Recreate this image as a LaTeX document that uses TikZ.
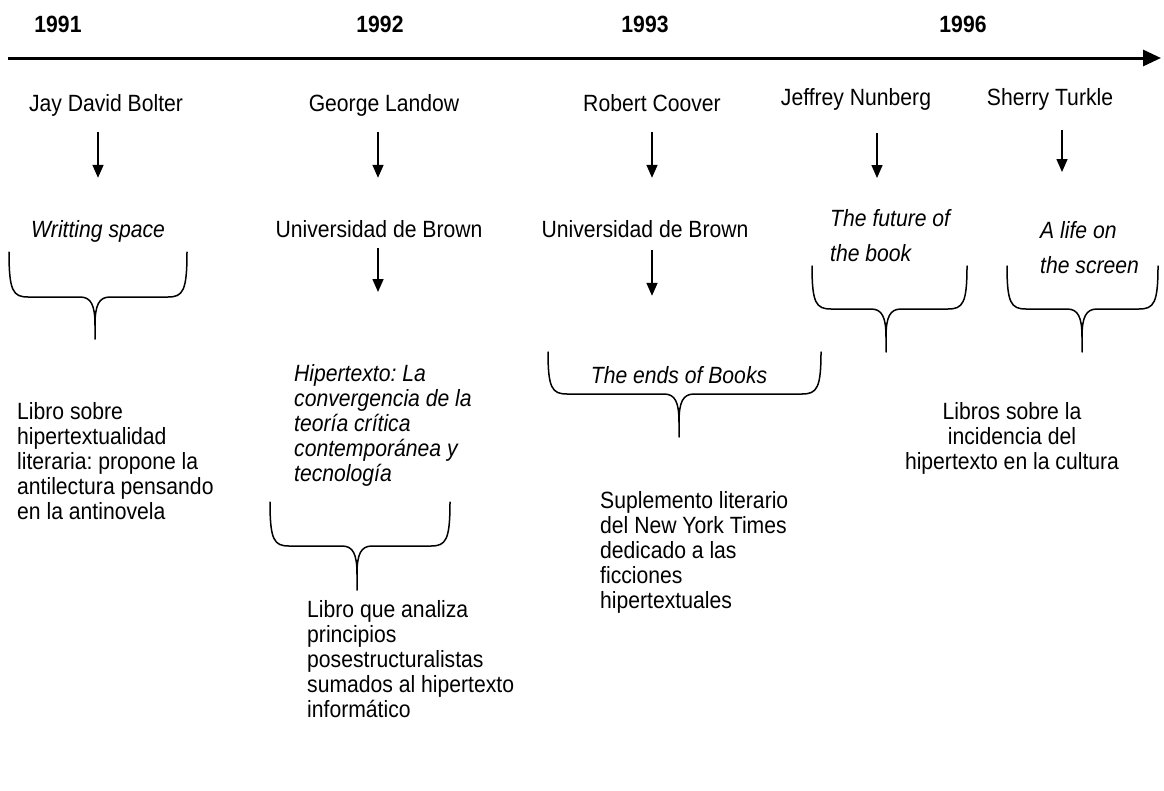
\documentclass[tikz,border=0pt]{standalone}
\usepackage{fontspec}
\setmainfont{Liberation Sans}[FakeStretch=0.9]
\usetikzlibrary{arrows.meta}

\newcommand\txtsize{\fontsize{23.5}{25}\selectfont}
\newcommand\wide{\fontsize{23.5}{35.5}\selectfont}

% curly brace opening downwards: left x, right x, top y, bar y, tip x, tip y
\newcommand\downbrace[6]{%
  \draw[brc] (#1,#3) .. controls (#1,#4-6) and (#1+4,#4) .. (#1+19,#4)
    -- (#5-15,#4) .. controls (#5-4,#4) and (#5,#4+8) .. (#5,#4+28) -- (#5,#6);
  \draw[brc] (#5,#4+28) .. controls (#5,#4+8) and (#5+4,#4) .. (#5+15,#4)
    -- (#2-19,#4) .. controls (#2-4,#4) and (#2,#4-6) .. (#2,#3);
}

\begin{document}
\frenchspacing
\begin{tikzpicture}[x=1pt,y=-1pt,
  lbl/.style={inner sep=0pt, font=\txtsize},
  one/.style={lbl, anchor=base, text height=16pt, text depth=5pt},
  year/.style={one, font=\txtsize\bfseries},
  title/.style={one, font=\txtsize\itshape},
  para/.style={lbl, anchor=north west, align=left},
  varrow/.style={line width=1.6pt, -{Triangle[length=13pt,width=11pt]}},
  timeline/.style={line width=3pt, -{Triangle[length=18pt,width=16pt]}},
  brc/.style={line width=1.5pt, line cap=round, line join=round}]

\useasboundingbox (0,0) rectangle (1164,790);

% time axis
\coordinate (tstart) at (8,58);
\coordinate (tend) at (1161,58);
\draw[timeline] (tstart) -- (tend);

% years
\node[year] (y1991) at (58,32) {1991};
\node[year] (y1992) at (380,32) {1992};
\node[year] (y1993) at (645,32) {1993};
\node[year] (y1996) at (963,32) {1996};

% authors
\node[one] (bolter)  at (106,111) {Jay David Bolter};
\node[one] (landow)  at (384,111) {George Landow};
\node[one] (coover)  at (652,111) {Robert Coover};
\node[one] (nunberg) at (856,105) {Jeffrey Nunberg};
\node[one] (turkle)  at (1050,105) {Sherry Turkle};

% works and institutions
\node[title] (ws)    at (98,237) {Writting space};
\node[one]   (univ1) at (379,237) {Universidad de Brown};
\node[one]   (univ2) at (645,237) {Universidad de Brown};
\node[lbl, anchor=north west, align=left, font=\wide\itshape] (future) at (830,209)
  {The future of\\the book};
\node[lbl, anchor=north west, align=left, font=\wide\itshape] (life) at (1040,221)
  {A life on\\the screen};
\node[para, font=\txtsize\itshape] (hiper) at (294,364)
  {Hipertexto: La\\convergencia de la\\teoría crítica\\contemporánea y\\tecnología};
\node[title] (ends) at (679,383) {The ends of Books};

% descriptions
\node[para] (d1) at (17,402)
  {Libro sobre\\hipertextualidad\\literaria: propone la\\antilectura pensando\\en la antinovela};
\node[para] (d2) at (307,600)
  {Libro que analiza\\principios\\posestructuralistas\\sumados al hipertexto\\informático};
\node[para] (d3) at (600,491)
  {Suplemento literario\\del New York Times\\dedicado a las\\ficciones\\hipertextuales};
\node[lbl, anchor=north, align=center] (d4) at (1012,402)
  {Libros sobre la\\incidencia del\\hipertexto en la cultura};

% arrows
\draw[varrow, shorten <=16pt, shorten >=43pt] ([xshift=-8pt]bolter.south) -- ([xshift=-8pt]bolter.south |- ws.north);
\draw[varrow, shorten <=16pt, shorten >=43pt] ([xshift=-6pt]landow.south) -- ([xshift=-6pt]landow.south |- univ1.north);
\draw[varrow, shorten <=16pt, shorten >=43pt] (coover.south) -- (coover.south |- univ2.north);
\draw[varrow, shorten <=23pt, shorten >=31pt] ([xshift=21pt]nunberg.south) -- ([xshift=21pt]nunberg.south |- future.north);
\draw[varrow, shorten <=20pt, shorten >=49pt] ([xshift=12pt]turkle.south) -- ([xshift=12pt]turkle.south |- life.north);
\draw[varrow, shorten <=6pt, shorten >=72pt] ([xshift=-6pt]landow.south |- univ1.south) -- ([xshift=-6pt]landow.south |- hiper.north);
\draw[varrow, shorten <=8pt, shorten >=71pt] (coover.south |- univ2.south) -- (coover.south |- ends.north);

% braces
\downbrace{9}{187}{252}{297}{95}{339}
\downbrace{270}{450}{502}{546}{357}{590}
\downbrace{548}{821}{352}{394}{679}{437}
\downbrace{812}{967}{266}{309}{886}{352}
\downbrace{1007}{1158}{266}{309}{1082}{352}

\end{tikzpicture}
\end{document}
